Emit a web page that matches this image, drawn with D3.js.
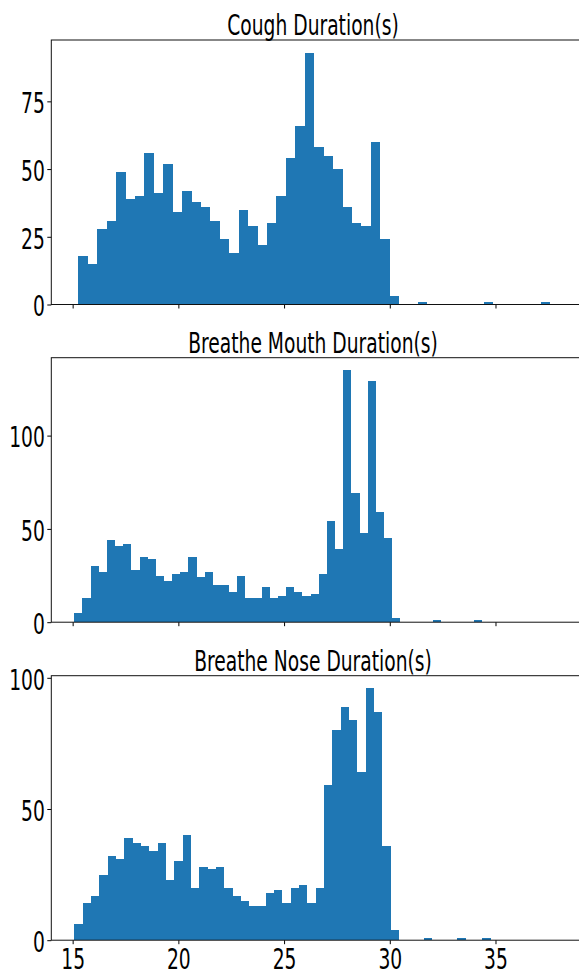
<!DOCTYPE html>
<html>
<head>
<meta charset="utf-8">
<script src="https://cdn.jsdelivr.net/npm/d3@7"></script>
<style>
body { margin: 0; background: #fff; }
text { font-family: "DejaVu Sans", sans-serif; fill: #000; }
</style>
</head>
<body>
<script>
var WIDTH = 579,
    HEIGHT = 969,
    LEFT = 51.3,
    RIGHT = 580.7,
    PANEL_H = 264.5,
    FONT = 27.5,
    SQUEEZE = 0.68;

// histogram counts, 50 bins each
var TITLES = ['Cough Duration(s)', 'Breathe Mouth Duration(s)', 'Breathe Nose Duration(s)'];
var COUGH = [18, 15, 28, 31, 49, 39, 40, 56, 41, 52,
             34, 42, 38, 36, 31, 24, 19, 35, 29, 22,
             30, 40, 54, 66, 93, 58, 55, 50, 36, 30,
             29, 60, 24, 3, 0, 0, 1, 0, 0, 0,
             0, 0, 0, 1, 0, 0, 0, 0, 0, 1];
var MOUTH = [5, 13, 30, 27, 44, 41, 42, 28, 35, 34,
             25, 22, 26, 27, 35, 24, 27, 20, 20, 16,
             25, 13, 13, 19, 13, 14, 19, 16, 14, 15,
             26, 54, 39, 135, 69, 48, 129, 59, 45, 2,
             0, 0, 0, 0, 1, 0, 0, 0, 0, 1];
var NOSE = [6, 14, 17, 25, 32, 31, 39, 37, 36, 34,
            37, 23, 30, 40, 20, 28, 27, 28, 20, 17,
            15, 13, 13, 18, 19, 14, 20, 21, 14, 20,
            59, 80, 89, 84, 64, 96, 87, 36, 4, 0,
            0, 0, 1, 0, 0, 0, 1, 0, 0, 1];
var RANGES = [[15.27, 37.58], [15.08, 34.35], [15.08, 34.77]];
var Y_TICKS = [[0, 25, 50, 75], [0, 50, 100], [0, 50, 100]];
var X_TICKS = [15, 20, 25, 30, 35];
var X_LIMITS = [13.99, 39.03];

var PANEL_TOPS = [40, 357.7, 675.7];

document.addEventListener('DOMContentLoaded', function() {
    var svg = d3.select('body').append('svg')
        .attr('width', WIDTH)
        .attr('height', HEIGHT);

    var x = d3.scaleLinear()
        .domain(X_LIMITS)
        .range([LEFT, RIGHT]);

    [COUGH, MOUTH, NOSE].forEach(function(counts, i) {
        drawPanel(svg, x, counts, i);
    });
});

function squeezeText(sel, dx) {
    sel.each(function() {
        var t = d3.select(this);
        var tx = dx != null ? dx : +t.attr('x') || 0;
        t.attr('x', 0)
            .attr('transform', 'translate(' + tx + ',0) scale(' + SQUEEZE + ',1)');
    });
}

function drawPanel(svg, x, counts, idx) {
    var top = PANEL_TOPS[idx],
        bottom = top + PANEL_H,
        lo = RANGES[idx][0],
        step = (RANGES[idx][1] - lo) / counts.length;

    var y = d3.scaleLinear()
        .domain([0, d3.max(counts) * 1.05])
        .range([bottom, top]);

    var bins = counts
        .map((c, i) => ({ x0: lo + i * step, x1: lo + (i + 1) * step, n: c }))
        .filter(b => b.n > 0);

    var g = svg.append('g');

    g.selectAll('rect.bar')
        .data(bins)
        .enter()
        .append('rect')
        .attr('class', 'bar')
        .attr('x', d => x(d.x0))
        .attr('width', d => x(d.x1) - x(d.x0))
        .attr('y', d => y(d.n))
        .attr('height', d => y(0) - y(d.n))
        .attr('fill', '#1f77b4')
        .attr('shape-rendering', 'crispEdges');

    // y axis
    var ya = g.append('g')
        .attr('transform', 'translate(' + LEFT + ',0)')
        .call(d3.axisLeft(y).tickValues(Y_TICKS[idx]).tickSize(4).tickPadding(2.5).tickSizeOuter(0));
    ya.select('.domain').remove();
    ya.selectAll('line').attr('stroke', '#000');
    ya.selectAll('text')
        .attr('font-size', FONT)
        .attr('font-family', '"DejaVu Sans", sans-serif')
        .attr('dy', '0.41em');
    squeezeText(ya.selectAll('text'));

    // x axis, labels only on the last panel
    var xa = g.append('g')
        .attr('transform', 'translate(0,' + bottom + ')')
        .call(d3.axisBottom(x).tickValues(X_TICKS).tickSize(4).tickPadding(5).tickSizeOuter(0));
    xa.select('.domain').remove();
    xa.selectAll('line').attr('stroke', '#000');
    if (idx < 2) {
        xa.selectAll('text').remove();
    } else {
        xa.selectAll('text')
            .attr('font-size', FONT)
            .attr('font-family', '"DejaVu Sans", sans-serif');
        squeezeText(xa.selectAll('text'), 0);
    }

    // frame
    g.append('rect')
        .attr('x', LEFT)
        .attr('y', top)
        .attr('width', RIGHT - LEFT)
        .attr('height', PANEL_H)
        .attr('fill', 'none')
        .attr('stroke', '#111')
        .attr('stroke-width', 1);

    g.append('text')
        .attr('transform', 'translate(313,' + (top - 5) + ') scale(' + SQUEEZE + ',1)')
        .attr('text-anchor', 'middle')
        .attr('font-size', FONT)
        .text(TITLES[idx]);
}
</script>
</body>
</html>
